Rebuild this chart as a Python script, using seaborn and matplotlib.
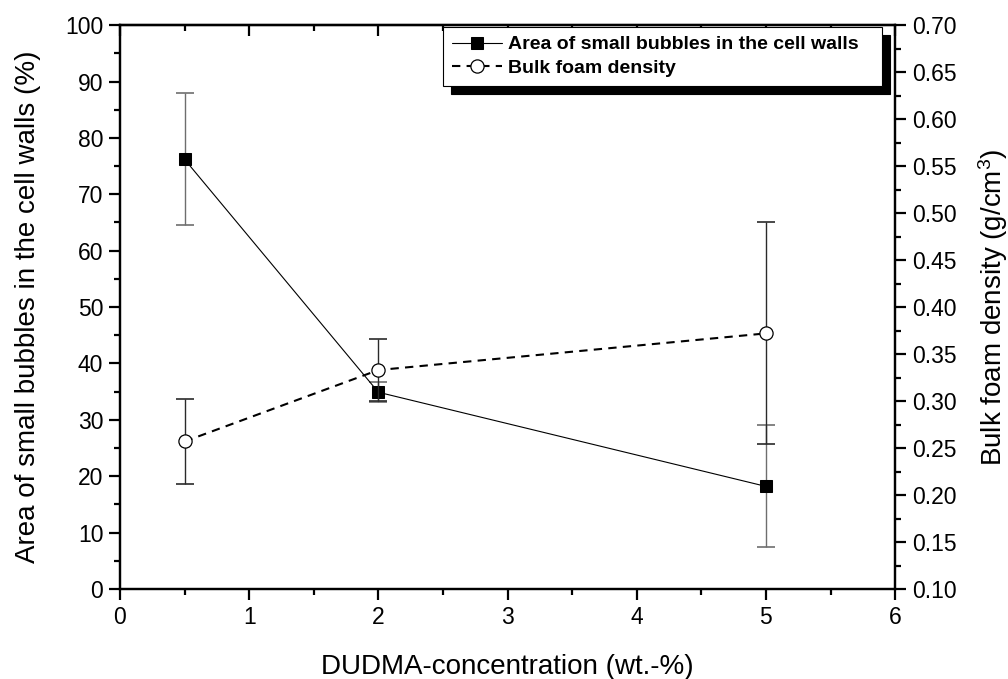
import numpy as np
import pandas as pd
import matplotlib
matplotlib.use("Agg")
import matplotlib.pyplot as plt
import seaborn as sns
from matplotlib.ticker import MultipleLocator, FormatStrFormatter

# DUDMA concentration (wt.-%)
dudma = [0.5, 2.0, 5.0]
# Area of small bubbles in the cell walls (%) with standard deviation
small_bubble_area = [76.2, 34.9, 18.2]
small_bubble_err = [11.7, 1.8, 10.8]
# Bulk foam density (g/cm3) with standard deviation
foam_density = [0.257, 0.333, 0.372]
foam_density_err = [0.045, 0.033, 0.118]

label_area = "Area of small bubbles in the cell walls"
label_density = "Bulk foam density"

sns.set_theme(style="ticks", rc={
    "axes.edgecolor": "black",
    "axes.linewidth": 1.6,
    "xtick.color": "black",
    "ytick.color": "black",
    "text.color": "black",
    "axes.labelcolor": "black",
})
plt.rcParams["font.family"] = ["Liberation Sans", "DejaVu Sans"]
plt.rcParams["mathtext.fontset"] = "custom"
plt.rcParams["mathtext.rm"] = "Liberation Sans"
plt.rcParams["mathtext.it"] = "Liberation Sans:italic"
plt.rcParams["mathtext.bf"] = "Liberation Sans:bold"

df = pd.DataFrame({
    "dudma": dudma,
    "area": small_bubble_area,
    "area_err": small_bubble_err,
    "density": foam_density,
    "density_err": foam_density_err,
})

fig, ax = plt.subplots(figsize=(10.08, 6.79), dpi=100)
fig.subplots_adjust(left=0.119, right=0.888, bottom=0.1325, top=0.963)
ax2 = ax.twinx()

# left axis: area of small bubbles
ax.errorbar(df["dudma"], df["area"], yerr=df["area_err"], fmt="none",
            ecolor="#6e6e6e", elinewidth=1.0, capsize=6.5, capthick=1.2, zorder=2)
sns.lineplot(data=df, x="dudma", y="area", ax=ax, color="black", linewidth=0.8,
             marker="s", markersize=9, markeredgecolor="black",
             markerfacecolor="black", label=label_area, legend=False,
             errorbar=None, zorder=3)

# right axis: bulk foam density
ax2.errorbar(df["dudma"], df["density"], yerr=df["density_err"], fmt="none",
             ecolor="#2a2a2a", elinewidth=1.0, capsize=6.5, capthick=1.2, zorder=2)
sns.lineplot(data=df, x="dudma", y="density", ax=ax2, color="black",
             linewidth=1.5, linestyle=(0, (4, 3)),
             marker="o", markersize=9.5, markeredgecolor="black",
             markerfacecolor="white", markeredgewidth=0.9,
             label=label_density, legend=False, errorbar=None, zorder=3)

ax.set_xlim(0, 6)
ax.set_ylim(0, 100)
ax2.set_ylim(0.10, 0.70)

ax.xaxis.set_major_locator(MultipleLocator(1))
ax.xaxis.set_minor_locator(MultipleLocator(0.5))
ax.yaxis.set_major_locator(MultipleLocator(10))
ax.yaxis.set_minor_locator(MultipleLocator(5))
ax2.yaxis.set_major_locator(MultipleLocator(0.05))
ax2.yaxis.set_minor_locator(MultipleLocator(0.025))
ax2.yaxis.set_major_formatter(FormatStrFormatter("%.2f"))

for a in (ax, ax2):
    a.tick_params(which="major", direction="out", length=8, width=1.6,
                  labelsize=16.5, pad=4)
    a.tick_params(which="minor", direction="out", length=4, width=1.6)
ax2.tick_params(axis="y", which="both", right=True, left=False)
ax.tick_params(axis="y", which="both", right=False)

# top spine carries inward ticks without labels
top = ax.secondary_xaxis("top")
top.xaxis.set_major_locator(MultipleLocator(1))
top.xaxis.set_minor_locator(MultipleLocator(0.5))
top.tick_params(which="major", direction="in", length=8, width=1.6, labeltop=False)
top.tick_params(which="minor", direction="in", length=4, width=1.6)
top.spines["top"].set_linewidth(1.6)

for a in (ax, ax2):
    for s in a.spines.values():
        s.set_linewidth(1.6)
        s.set_color("black")

ax.set_xlabel("DUDMA-concentration (wt.-%)", fontsize=20, labelpad=18)
ax.set_ylabel("Area of small bubbles in the cell walls (%)", fontsize=20, labelpad=17)
ax2.set_ylabel("Bulk foam density (g/cm$^{3}$)", fontsize=20, labelpad=14)

h1, l1 = ax.get_legend_handles_labels()
h2, l2 = ax2.get_legend_handles_labels()
leg = ax2.legend(h1 + h2, l1 + l2, loc="upper left", mode="expand",
                 bbox_to_anchor=(0.4168, 0.0, 0.5665, 0.9965),
                 bbox_transform=ax.transAxes,
                 frameon=True, fancybox=False, framealpha=1,
                 edgecolor="black", facecolor="white",
                 prop={"weight": "bold", "size": 14},
                 handlelength=2.6, handletextpad=0.3, borderpad=0.45,
                 labelspacing=0.3, borderaxespad=0,
                 shadow={"ox": 6, "oy": -6, "facecolor": "black",
                         "edgecolor": "black", "alpha": 1})
leg.get_frame().set_linewidth(0.8)

fig.savefig("out.png", dpi=100)
